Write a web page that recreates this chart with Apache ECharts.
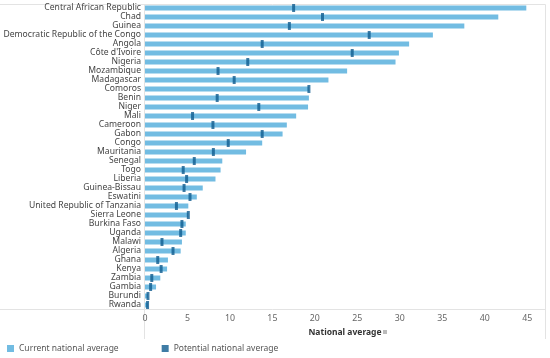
<!DOCTYPE html>
<html><head><meta charset="utf-8">
<script src="https://cdn.jsdelivr.net/npm/echarts@6/dist/echarts.min.js"></script>
<style>html,body{margin:0;padding:0;background:#fff}#c{width:550px;height:358px}</style>
</head><body><div id="c"></div>
<script>
const countries = ["Central African Republic","Chad","Guinea","Democratic Republic of the Congo","Angola","Côte d'Ivoire","Nigeria","Mozambique","Madagascar","Comoros","Benin","Niger","Mali","Cameroon","Gabon","Congo","Mauritania","Senegal","Togo","Liberia","Guinea-Bissau","Eswatini","United Republic of Tanzania","Sierra Leone","Burkina Faso","Uganda","Malawi","Algeria","Ghana","Kenya","Zambia","Gambia","Burundi","Rwanda"];
const current = [44.9,41.6,37.6,33.9,31.1,29.9,29.5,23.8,21.6,19.3,19.3,19.2,17.8,16.7,16.2,13.8,11.9,9.1,8.9,8.3,6.8,6.1,5.1,5.1,4.8,4.8,4.35,4.2,2.7,2.6,1.8,1.3,0.35,0.35];
const potential = [17.5,20.9,17.0,26.4,13.8,24.4,12.1,8.6,10.5,19.3,8.5,13.4,5.6,8.0,13.8,9.8,8.05,5.8,4.5,4.9,4.6,5.3,3.7,5.1,4.35,4.2,2.0,3.3,1.5,1.9,0.8,0.66,0.35,0.3];
const xTicks = [0,5,10,15,20,25,30,35,40,45];

const LIGHT = '#72bce2', DARK = '#0f5b8e', LINE = '#e3e3e3';
const FONT = "'Noto Sans', sans-serif";
const chart = echarts.init(document.getElementById('c'), null, {renderer:'canvas'});
chart.setOption({
  animation:false,
  textStyle:{fontFamily:FONT},
  grid:{left:145, right:5, top:3.5, bottom:48.5, show:false, containLabel:false, outerBoundsMode:'none'},
  legend:{
    left:7, top:344, padding:0, itemWidth:7, itemHeight:7, itemGap:43, icon:'rect',
    textStyle:{fontSize:8.5, color:'#555', fontFamily:FONT},
    data:[{name:'Current national average', itemStyle:{color:LIGHT}},{name:'Potential national average', itemStyle:{color:DARK}}]
  },
  xAxis:{
    type:'value', min:0, max:47.1, interval:5,
    axisLine:{show:false}, axisTick:{show:false}, splitLine:{show:false},
    axisLabel:{color:'#666', fontSize:8.8, fontFamily:FONT, margin:4, formatter:v=>xTicks.includes(v)?String(v):''},
    name:'National average', nameLocation:'middle', nameGap:19,
    nameTextStyle:{color:'#333', fontSize:8.5, fontWeight:'bold', fontFamily:FONT}
  },
  yAxis:{
    type:'category', data:countries, inverse:true,
    axisLine:{show:false}, axisTick:{show:false},
    axisLabel:{color:'#444', fontSize:8.6, margin:4, interval:0, fontFamily:FONT}
  },
  graphic:[
    {type:'line', shape:{x1:0,y1:4.5,x2:545.5,y2:4.5}, style:{stroke:LINE,lineWidth:1}, silent:true},
    {type:'line', shape:{x1:0,y1:309.5,x2:545.5,y2:309.5}, style:{stroke:LINE,lineWidth:1}, silent:true},
    {type:'line', shape:{x1:144.5,y1:4.5,x2:144.5,y2:339}, style:{stroke:LINE,lineWidth:1}, silent:true},
    {type:'line', shape:{x1:545.5,y1:4.5,x2:545.5,y2:339}, style:{stroke:LINE,lineWidth:1}, silent:true},
    {type:'rect', shape:{x:383,y:330,width:4,height:4}, style:{fill:'#bbb'}, silent:true}
  ],
  series:[
    {name:'Current national average', type:'bar', data:current, barWidth:5, itemStyle:{color:LIGHT}, z:2},
    {name:'Potential national average', type:'scatter', symbol:'rect', symbolSize:[3,8],
     data:potential.map((v,i)=>[v,countries[i]]), itemStyle:{color:DARK}, z:3}
  ]
});
</script></body></html>
